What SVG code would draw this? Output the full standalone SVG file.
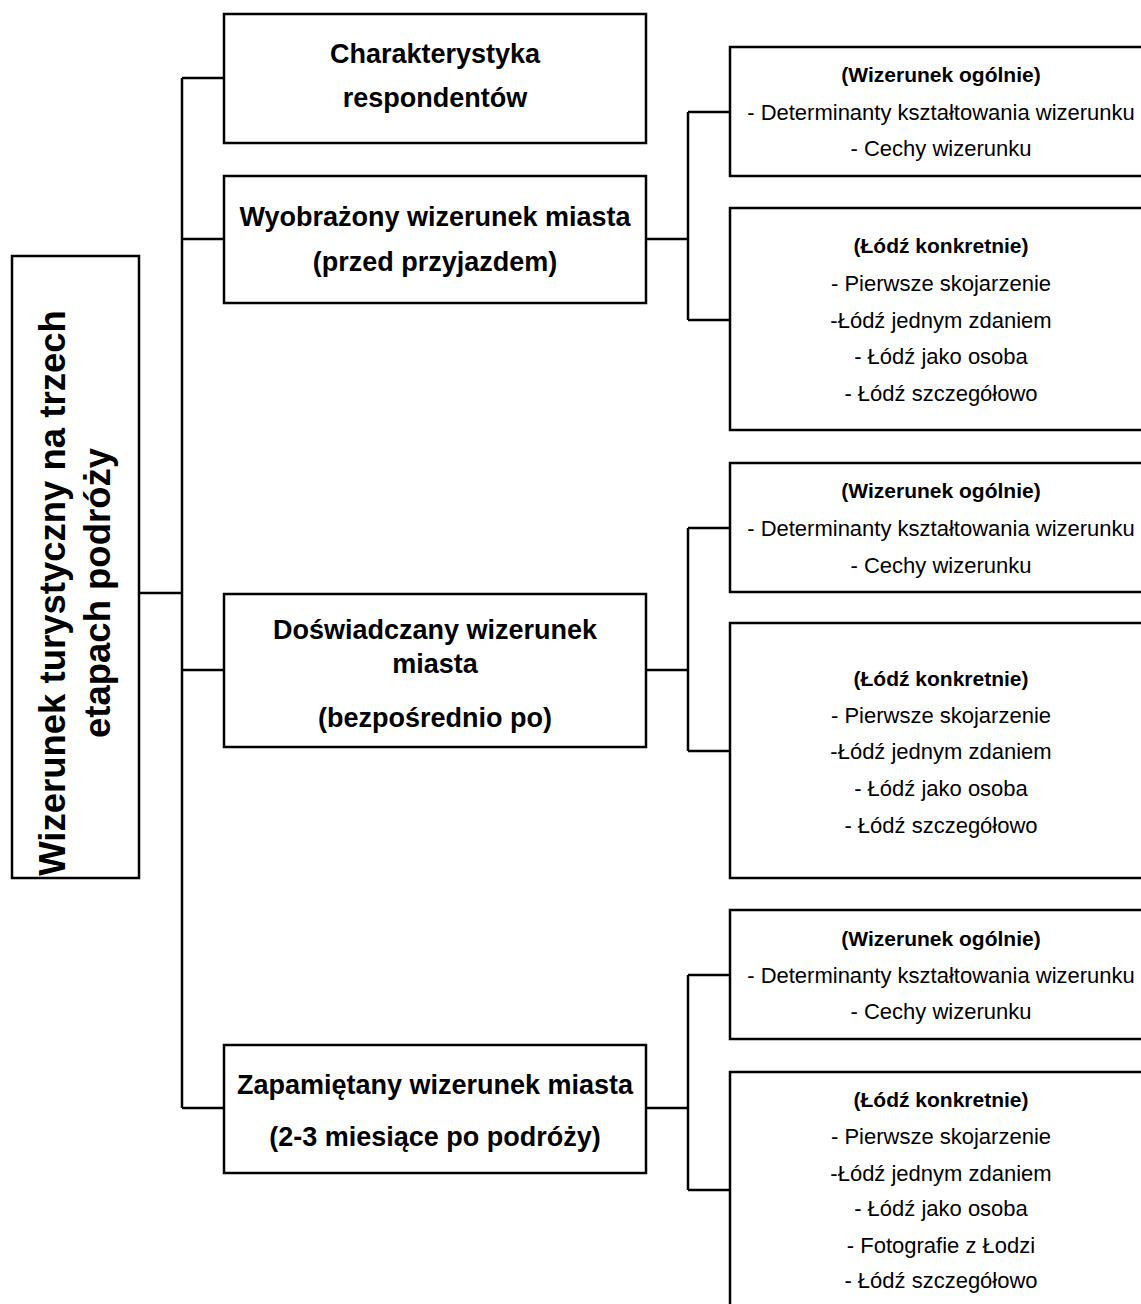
<svg xmlns="http://www.w3.org/2000/svg" width="1141" height="1304" viewBox="0 0 1141 1304">
<style>
.box{fill:#fff;stroke:#000;stroke-width:2.5}
.ln{fill:none;stroke:#000;stroke-width:2.5}
text{font-family:"Liberation Sans",Arial,sans-serif;fill:#000;text-anchor:middle}
.mid{font-size:27px;font-weight:bold}
.hd{font-size:21px;font-weight:bold}
.it{font-size:22px}
.root{font-size:36.5px;font-weight:bold}
</style>
<rect width="1141" height="1304" fill="#fff"/>
<g id="connectors">
<path class="ln" d="M139 593H182M182 78V1108M182 78H224M182 239H224M182 670H224M182 1108H224"/>
<path class="ln" d="M646 239H688M688 112V320M688 112H730M688 320H730"/>
<path class="ln" d="M646 670H688M688 528V751M688 528H730M688 751H730"/>
<path class="ln" d="M646 1108H688M688 975V1190M688 975H730M688 1190H730"/>
</g>
<g id="root">
<rect class="box" x="12" y="256" width="127" height="622"/>
<g transform="translate(75 593) rotate(-90)">
<text class="root" x="0" y="-10">Wizerunek turystyczny na trzech</text>
<text class="root" x="0" y="35">etapach podróży</text>
</g>
</g>
<g id="n1">
<rect class="box" x="224" y="14" width="422" height="129"/>
<text class="mid" x="435" y="63">Charakterystyka</text>
<text class="mid" x="435" y="107">respondentów</text>
</g>
<g id="n2">
<rect class="box" x="224" y="176" width="422" height="127"/>
<text class="mid" x="435" y="226">Wyobrażony wizerunek miasta</text>
<text class="mid" x="435" y="271">(przed przyjazdem)</text>
</g>
<g id="n3">
<rect class="box" x="224" y="594" width="422" height="153"/>
<text class="mid" x="435" y="639">Doświadczany wizerunek</text>
<text class="mid" x="435" y="673">miasta</text>
<text class="mid" x="435" y="727">(bezpośrednio po)</text>
</g>
<g id="n4">
<rect class="box" x="224" y="1045" width="422" height="128"/>
<text class="mid" x="435" y="1094">Zapamiętany wizerunek miasta</text>
<text class="mid" x="435" y="1146">(2-3 miesiące po podróży)</text>
</g>
<g id="a1">
<rect class="box" x="730" y="47" width="440" height="129"/>
<text class="hd" x="941" y="82">(Wizerunek ogólnie)</text>
<text class="it" x="941" y="120">- Determinanty kształtowania wizerunku</text>
<text class="it" x="941" y="156">- Cechy wizerunku</text>
</g>
<g id="a2">
<rect class="box" x="730" y="208" width="440" height="222"/>
<text class="hd" x="941" y="253">(Łódź konkretnie)</text>
<text class="it" x="941" y="291">- Pierwsze skojarzenie</text>
<text class="it" x="941" y="328">-Łódź jednym zdaniem</text>
<text class="it" x="941" y="364">- Łódź jako osoba</text>
<text class="it" x="941" y="401">- Łódź szczegółowo</text>
</g>
<g id="b1">
<rect class="box" x="730" y="463" width="440" height="129"/>
<text class="hd" x="941" y="498">(Wizerunek ogólnie)</text>
<text class="it" x="941" y="536">- Determinanty kształtowania wizerunku</text>
<text class="it" x="941" y="573">- Cechy wizerunku</text>
</g>
<g id="b2">
<rect class="box" x="730" y="623" width="440" height="255"/>
<text class="hd" x="941" y="686">(Łódź konkretnie)</text>
<text class="it" x="941" y="723">- Pierwsze skojarzenie</text>
<text class="it" x="941" y="759">-Łódź jednym zdaniem</text>
<text class="it" x="941" y="796">- Łódź jako osoba</text>
<text class="it" x="941" y="833">- Łódź szczegółowo</text>
</g>
<g id="c1">
<rect class="box" x="730" y="910" width="440" height="129"/>
<text class="hd" x="941" y="946">(Wizerunek ogólnie)</text>
<text class="it" x="941" y="983">- Determinanty kształtowania wizerunku</text>
<text class="it" x="941" y="1019">- Cechy wizerunku</text>
</g>
<g id="c2">
<rect class="box" x="730" y="1072" width="440" height="260"/>
<text class="hd" x="941" y="1107">(Łódź konkretnie)</text>
<text class="it" x="941" y="1144">- Pierwsze skojarzenie</text>
<text class="it" x="941" y="1181">-Łódź jednym zdaniem</text>
<text class="it" x="941" y="1216">- Łódź jako osoba</text>
<text class="it" x="941" y="1253">- Fotografie z Łodzi</text>
<text class="it" x="941" y="1288">- Łódź szczegółowo</text>
</g>
</svg>
